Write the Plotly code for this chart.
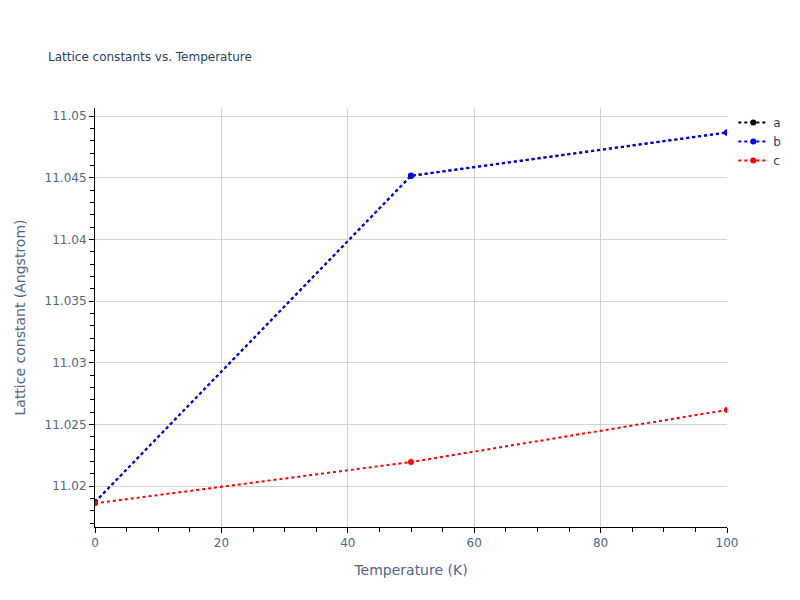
import plotly.graph_objects as go

temps = [0, 50, 100]
a_vals = [11.0187, 11.04514, 11.04865]
b_vals = [11.0187, 11.04517, 11.04868]
c_vals = [11.0186, 11.02195, 11.02617]

fig = go.Figure()
for name, vals, col in [("a", a_vals, "black"), ("b", b_vals, "blue"), ("c", c_vals, "red")]:
    fig.add_trace(go.Scatter(x=temps, y=vals, name=name, mode="lines+markers",
                             line=dict(color=col, dash="dot", width=2), marker=dict(color=col, size=6)))

axis_common = dict(showline=True, linecolor="black", linewidth=1, ticks="outside", tickcolor="black",
                   gridcolor="lightgrey", zeroline=False, mirror=False, automargin=False,
                   tickfont=dict(size=12, color="#506784"), title_font=dict(size=14, color="#506784"))
fig.update_layout(
    template="plotly_white",
    width=800, height=600,
    font=dict(family="DejaVu Sans"),
    title=dict(text="Lattice constants vs. Temperature", font=dict(size=12, color="#2a3f5f"),
               x=0.05, y=0.925, automargin=False),
    margin=dict(l=87, r=81, t=100, b=81),
    legend=dict(x=1.01, y=1, font=dict(size=12)),
    xaxis=dict(title="Temperature (K)", range=[0, 100], dtick=20,
               minor=dict(dtick=5, ticks="outside", tickcolor="black", ticklen=4), **axis_common),
    yaxis=dict(title="Lattice constant (Angstrom)", range=[11.01668, 11.05065], dtick=0.005,
               minor=dict(dtick=0.001, ticks="outside", tickcolor="black", ticklen=4), **axis_common),
)
fig.write_html("out.html")
